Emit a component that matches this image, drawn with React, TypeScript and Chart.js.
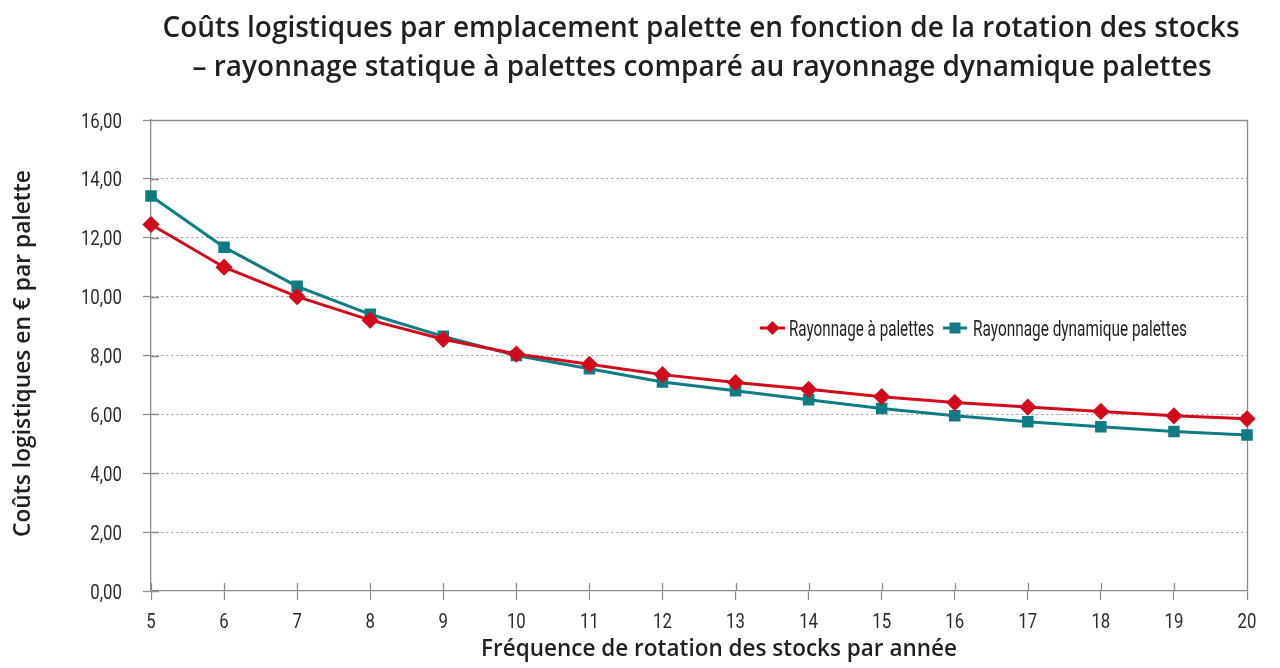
import React, { useEffect, useRef } from "react";
import { Chart, registerables } from "chart.js";

Chart.register(...registerables);

const categories = ["5", "6", "7", "8", "9", "10", "11", "12", "13", "14", "15", "16", "17", "18", "19", "20"];
const rackStatic = [12.45, 11.0, 10.0, 9.2, 8.55, 8.05, 7.7, 7.35, 7.08, 6.85, 6.6, 6.4, 6.25, 6.1, 5.95, 5.85];
const rackDynamic = [13.42, 11.68, 10.35, 9.4, 8.65, 8.0, 7.55, 7.1, 6.8, 6.5, 6.2, 5.95, 5.75, 5.58, 5.42, 5.3];
const yTicks = [0, 2, 4, 6, 8, 10, 12, 14, 16];
const seriesNames = ["Rayonnage à palettes", "Rayonnage dynamique palettes"];
const titleLines = [
  "Coûts logistiques par emplacement palette en fonction de la rotation des stocks",
  "– rayonnage statique à palettes comparé au rayonnage dynamique palettes",
];
const yTitle = "Coûts logistiques en € par palette";
const xTitle = "Fréquence de rotation des stocks par année";

const RED = "#d20a1e";
const TEAL = "#117b82";
const AXIS = "#8c8c8c";
const TEXT = "#231f20";
const COND = "Roboto, 'Noto Sans', sans-serif";
const BOLD = "'Open Sans', 'Noto Sans', sans-serif";
const SQUEEZE = 0.8;

const fmt = (v: number) => Number(v).toFixed(2).replace(".", ",");

function diamond(ctx: CanvasRenderingContext2D, x: number, y: number, r: number) {
  ctx.beginPath();
  ctx.moveTo(x, y - r);
  ctx.lineTo(x + r, y);
  ctx.lineTo(x, y + r);
  ctx.lineTo(x - r, y);
  ctx.closePath();
  ctx.fill();
}

function squeezedText(ctx: CanvasRenderingContext2D, text: string, x: number, y: number, align: CanvasTextAlign) {
  ctx.save();
  ctx.translate(x, y);
  ctx.scale(SQUEEZE, 1);
  ctx.textAlign = align;
  ctx.fillText(text, 0, 0);
  ctx.restore();
}

const decor = {
  id: "decor",
  beforeDatasetsDraw(chart: any) {
    const { ctx, chartArea: a, scales } = chart;
    const x = scales.x;
    const y = scales.y;
    ctx.save();
    ctx.strokeStyle = AXIS;
    ctx.lineWidth = 1.3;
    ctx.beginPath();
    ctx.moveTo(a.left, a.top + 0.5);
    ctx.lineTo(a.right + 0.5, a.top + 0.5);
    ctx.lineTo(a.right + 0.5, a.bottom);
    yTicks.forEach((v) => {
      const py = Math.round(y.getPixelForValue(v)) + 0.5;
      ctx.moveTo(a.left, py);
      ctx.lineTo(a.left + 8, py);
    });
    categories.forEach((_, i) => {
      const px = Math.round(x.getPixelForValue(i)) + 0.5;
      ctx.moveTo(px, a.bottom);
      ctx.lineTo(px, a.bottom - 8);
    });
    ctx.stroke();
    ctx.restore();
  },
  afterDraw(chart: any) {
    const { ctx, chartArea: a, scales } = chart;
    const x = scales.x;
    const y = scales.y;
    ctx.save();
    ctx.fillStyle = TEXT;
    ctx.textBaseline = "alphabetic";

    // tick labels from the library's scales
    ctx.fillStyle = "#2b2b2b";
    ctx.font = `21px ${COND}`;
    y.ticks.forEach((t: any, i: number) => {
      const py = y.getPixelForTick(i);
      squeezedText(ctx, fmt(t.value), 122, py + 7.5, "right");
    });
    x.ticks.forEach((t: any, i: number) => {
      const px = x.getPixelForTick(i);
      squeezedText(ctx, String(x.getLabelForValue(t.value)), px, a.bottom + 36.5, "center");
    });

    ctx.fillStyle = TEXT;
    ctx.textAlign = "center";
    ctx.font = `600 28.5px ${BOLD}`;
    ctx.fillText(titleLines[0], 701, 37, 1077);
    ctx.fillText(titleLines[1], 702, 76, 1019);

    ctx.font = `600 23px ${BOLD}`;
    ctx.fillText(xTitle, 719, 656, 476);

    ctx.save();
    ctx.translate(30, 353.5);
    ctx.rotate(-Math.PI / 2);
    ctx.fillText(yTitle, 0, 0, 367);
    ctx.restore();

    // legend
    const ly = 328;
    ctx.lineWidth = 3;
    ctx.strokeStyle = RED;
    ctx.beginPath();
    ctx.moveTo(760, ly);
    ctx.lineTo(785, ly);
    ctx.stroke();
    ctx.fillStyle = RED;
    diamond(ctx, 772.5, ly, 7);

    ctx.strokeStyle = TEAL;
    ctx.beginPath();
    ctx.moveTo(943, ly);
    ctx.lineTo(967, ly);
    ctx.stroke();
    ctx.fillStyle = TEAL;
    ctx.fillRect(955 - 5.5, ly - 5.5, 11, 11);

    ctx.fillStyle = TEXT;
    ctx.textAlign = "left";
    ctx.font = `22px ${COND}`;
    ctx.fillText(seriesNames[0], 789, 336, 145);
    ctx.fillText(seriesNames[1], 973, 336, 214);
    ctx.restore();
  },
};

export default function App() {
  const ref = useRef<HTMLCanvasElement | null>(null);

  useEffect(() => {
    document.body.style.margin = "0";
    const canvas = ref.current;
    if (!canvas) return;
    const chart = new Chart(canvas, {
      type: "line",
      data: {
        labels: categories,
        datasets: [
          {
            label: seriesNames[0],
            data: rackStatic,
            borderColor: RED,
            backgroundColor: RED,
            borderWidth: 3,
            pointStyle: "rectRot",
            pointRadius: 6.5,
            pointHoverRadius: 6.5,
            tension: 0,
          },
          {
            label: seriesNames[1],
            data: rackDynamic,
            borderColor: TEAL,
            backgroundColor: TEAL,
            borderWidth: 3,
            pointStyle: "rect",
            pointRadius: 6,
            pointHoverRadius: 6,
            tension: 0,
          },
        ],
      },
      options: {
        responsive: false,
        animation: false,
        devicePixelRatio: 1,
        layout: { padding: { left: 0, top: 120, right: 33, bottom: 0 } },
        plugins: {
          legend: { display: false },
          title: { display: false },
          tooltip: { enabled: false },
        },
        scales: {
          x: {
            type: "category",
            offset: false,
            grid: {
              drawOnChartArea: false,
              drawTicks: true,
              tickLength: 9,
              tickColor: AXIS,
              tickWidth: 1.3,
            },
            border: { color: AXIS, width: 1.3 },
            ticks: { display: false, autoSkip: false, maxRotation: 0 },
            afterFit: (s: any) => {
              s.height = 77;
            },
          },
          y: {
            min: 0,
            max: 16,
            grid: {
              color: (c: any) => (c.tick && (c.tick.value === 0 || c.tick.value === 16) ? "rgba(0,0,0,0)" : "#9a9a9a"),
              lineWidth: 1,
              drawTicks: true,
              tickLength: 8,
              tickColor: AXIS,
              tickWidth: 1.3,
            },
            border: { color: AXIS, width: 1.3, dash: [2, 3] },
            ticks: { display: false, stepSize: 2 },
            afterFit: (s: any) => {
              s.width = 151;
            },
          },
        },
      },
      plugins: [decor],
    } as any);
    return () => chart.destroy();
  }, []);

  return (
    <div style={{ position: "fixed", left: 0, top: 0, width: 1280, height: 668, background: "#fff" }}>
      <canvas ref={ref} width={1280} height={668} style={{ display: "block", width: 1280, height: 668 }} />
    </div>
  );
}
